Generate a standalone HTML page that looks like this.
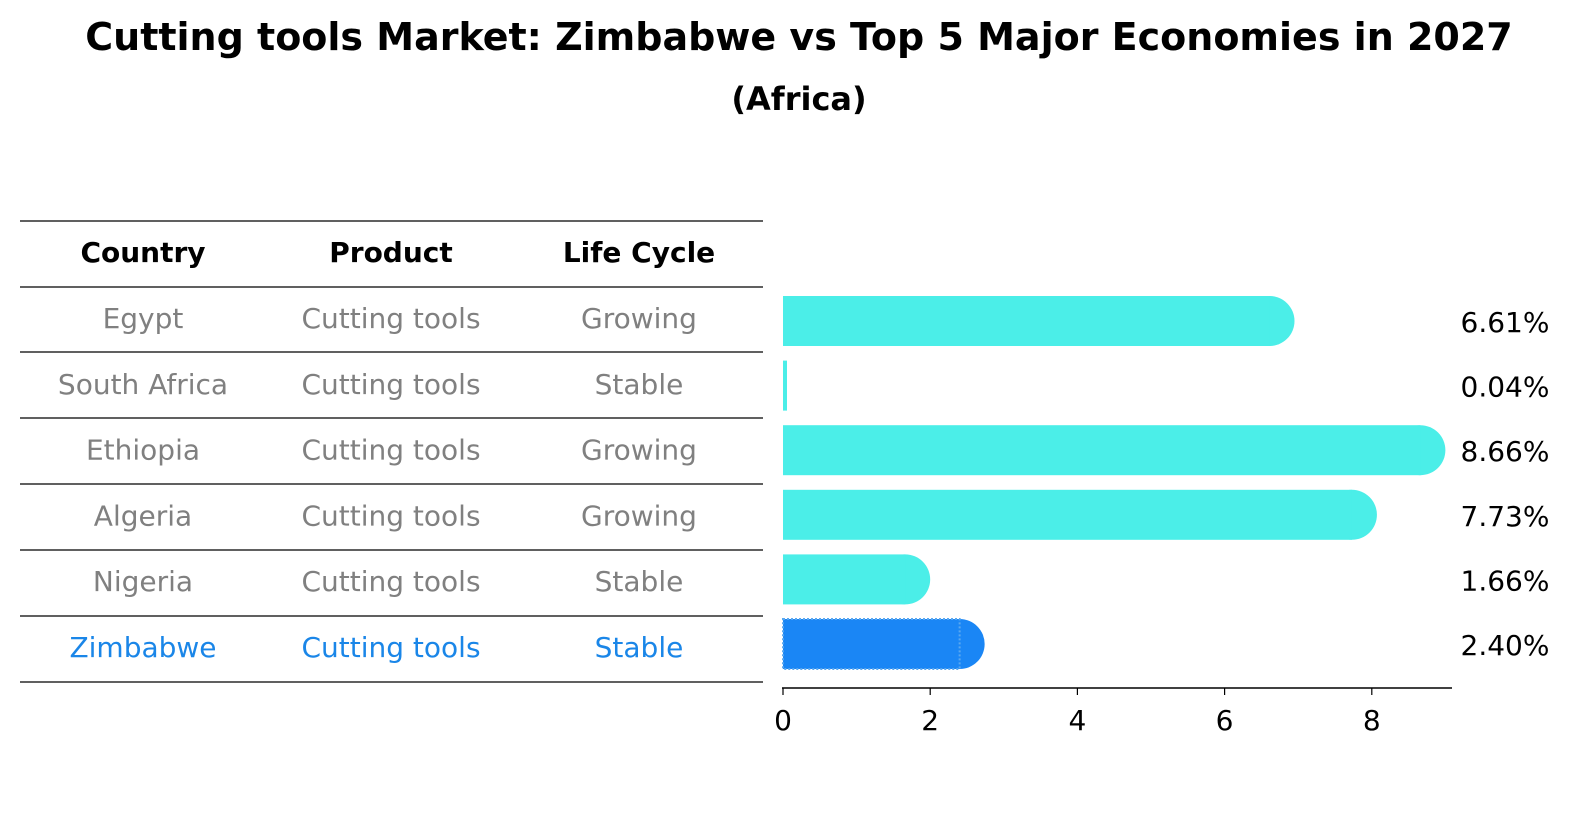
<!DOCTYPE html>
<html><head><meta charset="utf-8"><style>
html,body{margin:0;padding:0;background:#fff;overflow:hidden;width:1586px;height:823px;}
svg{display:block;}
</style></head><body>
<svg width="1586" height="823" xmlns="http://www.w3.org/2000/svg" style="font-family:'DejaVu Sans','Liberation Sans',sans-serif">
<text x="799" y="50" text-anchor="middle" font-size="38" font-weight="bold">Cutting tools Market: Zimbabwe vs Top 5 Major Economies in 2027</text>
<text x="799" y="110" text-anchor="middle" font-size="32" font-weight="bold">(Africa)</text>
<g id="table"></g>
<g id="bars"></g>
</svg>
<script>
const countries=["Egypt","South Africa","Ethiopia","Algeria","Nigeria","Zimbabwe"];
const products=["Cutting tools","Cutting tools","Cutting tools","Cutting tools","Cutting tools","Cutting tools"];
const lifeCycles=["Growing","Stable","Growing","Growing","Stable","Stable"];
const values=[6.61,0.04,8.66,7.73,1.66,2.40];
const ticks=[0,2,4,6,8];
const NS="http://www.w3.org/2000/svg";
function mk(t,a,p){const e=document.createElementNS(NS,t);for(const k in a)e.setAttribute(k,a[k]);p.appendChild(e);return e;}
const x=v=>783+v*73.6;
const rowY=i=>321+i*64.6;
const tbl=document.getElementById('table');
const lines=[221,287,352,418,484,550,616,682];
lines.forEach(y=>{const l=mk('line',{x1:20,x2:763,y1:y,y2:y,stroke:'#000','stroke-width':1.2},tbl);

});
const cx=[143,391,639];
["Country","Product","Life Cycle"].forEach((h,j)=>{const t=mk('text',{x:cx[j],y:262,'text-anchor':'middle','font-size':28,'font-weight':'bold'},tbl);t.textContent=h;

});
countries.forEach((c,i)=>{const col=c==="Zimbabwe"?"#1a86e8":"#808080";const y=lines[1]+i*65.8+41;
[c,products[i],lifeCycles[i]].forEach((s,j)=>{const t=mk('text',{x:cx[j],y:y,'text-anchor':'middle','font-size':28,fill:col},tbl);t.textContent=s;

});});
const g=document.getElementById('bars');
const h=50,r=25;
values.forEach((v,i)=>{const yc=rowY(i);const zim=countries[i]==="Zimbabwe";const col=zim?"#1a86f5":"#4beee8";
const bg=mk('g',{},g);


const w=Math.max(x(v)-x(0),4);
if(v>0.5)mk('circle',{cx:x(v),cy:yc,r:r,fill:col},bg);
const rc=mk('rect',{x:x(0),y:yc-h/2,width:w,height:h,fill:col},bg);
if(zim){rc.setAttribute('stroke','#5aa8f0');rc.setAttribute('stroke-width','2');rc.setAttribute('stroke-dasharray','2,2');}
const t=mk('text',{x:1505,y:yc+11,'text-anchor':'middle','font-size':28},g);t.textContent=v.toFixed(2)+"%";

});
const ax=mk('line',{x1:782,x2:1452,y1:688,y2:688,stroke:'#000','stroke-width':1.5},g);


ticks.forEach(tv=>{mk('line',{x1:x(tv),x2:x(tv),y1:688,y2:695,stroke:'#000','stroke-width':1.2},g);
const t=mk('text',{x:x(tv),y:730,'text-anchor':'middle','font-size':28},g);t.textContent=tv;

});
</script>
</body></html>
